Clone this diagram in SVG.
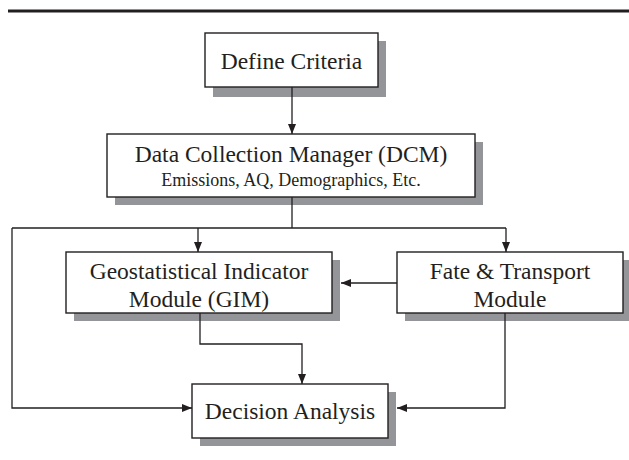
<svg xmlns="http://www.w3.org/2000/svg" width="629" height="460" viewBox="0 0 629 460">
  <style>
    .box { fill: #ffffff; stroke: #231f20; stroke-width: 1.4; }
    .shadow { fill: #939598; stroke: none; }
    .label { font-family: "Liberation Serif", "Times New Roman", serif; font-size: 23.5px; fill: #231f20; text-anchor: middle; }
    .small { font-size: 18px; }
    .conn { fill: none; stroke: #231f20; stroke-width: 1.3; }
  </style>
  <defs>
    <marker id="arrow" markerWidth="10" markerHeight="8" refX="10" refY="4" orient="auto" markerUnits="userSpaceOnUse">
      <path d="M0,0 L10,4 L0,8 Z" fill="#231f20"/>
    </marker>
  </defs>
  <rect width="629" height="460" fill="#ffffff"/>

  <!-- heading rule -->
  <rect x="8" y="9.5" width="621" height="3" fill="#231f20"/>

  <g id="define-criteria">
    <rect class="shadow" x="213" y="41" width="173" height="56"/>
    <rect class="box" x="205" y="33" width="173" height="54"/>
    <text class="label" x="291.5" y="69">Define Criteria</text>
  </g>

  <g id="dcm">
    <rect class="shadow" x="115" y="142" width="368" height="63"/>
    <rect class="box" x="107" y="134" width="368" height="63"/>
    <text class="label" x="291" y="162">Data Collection Manager (DCM)</text>
    <text class="label small" x="291" y="186">Emissions, AQ, Demographics, Etc.</text>
  </g>

  <g id="gim">
    <rect class="shadow" x="74" y="260" width="266" height="61"/>
    <rect class="box" x="66" y="252" width="266" height="61"/>
    <text class="label" x="199" y="279">Geostatistical Indicator</text>
    <text class="label" x="199" y="307">Module (GIM)</text>
  </g>

  <g id="fate-transport">
    <rect class="shadow" x="405" y="260" width="226" height="61"/>
    <rect class="box" x="397" y="252" width="226" height="61"/>
    <text class="label" x="510" y="279">Fate &amp; Transport</text>
    <text class="label" x="510" y="307">Module</text>
  </g>

  <g id="decision-analysis">
    <rect class="shadow" x="200" y="392" width="196" height="54"/>
    <rect class="box" x="192" y="384" width="196" height="54"/>
    <text class="label" x="290" y="419">Decision Analysis</text>
  </g>

  <g id="connectors">
    <path class="conn" d="M292,87 V134" marker-end="url(#arrow)"/>
    <path class="conn" d="M292,197 V228"/>
    <path class="conn" d="M12,228 H506"/>
    <path class="conn" d="M198,228 V252" marker-end="url(#arrow)"/>
    <path class="conn" d="M506,228 V252" marker-end="url(#arrow)"/>
    <path class="conn" d="M397,283 H341" marker-end="url(#arrow)"/>
    <path class="conn" d="M200,313 V344 H302 V384" marker-end="url(#arrow)"/>
    <path class="conn" d="M12,228 V408 H192" marker-end="url(#arrow)"/>
    <path class="conn" d="M505,313 V408 H397" marker-end="url(#arrow)"/>
  </g>
</svg>
